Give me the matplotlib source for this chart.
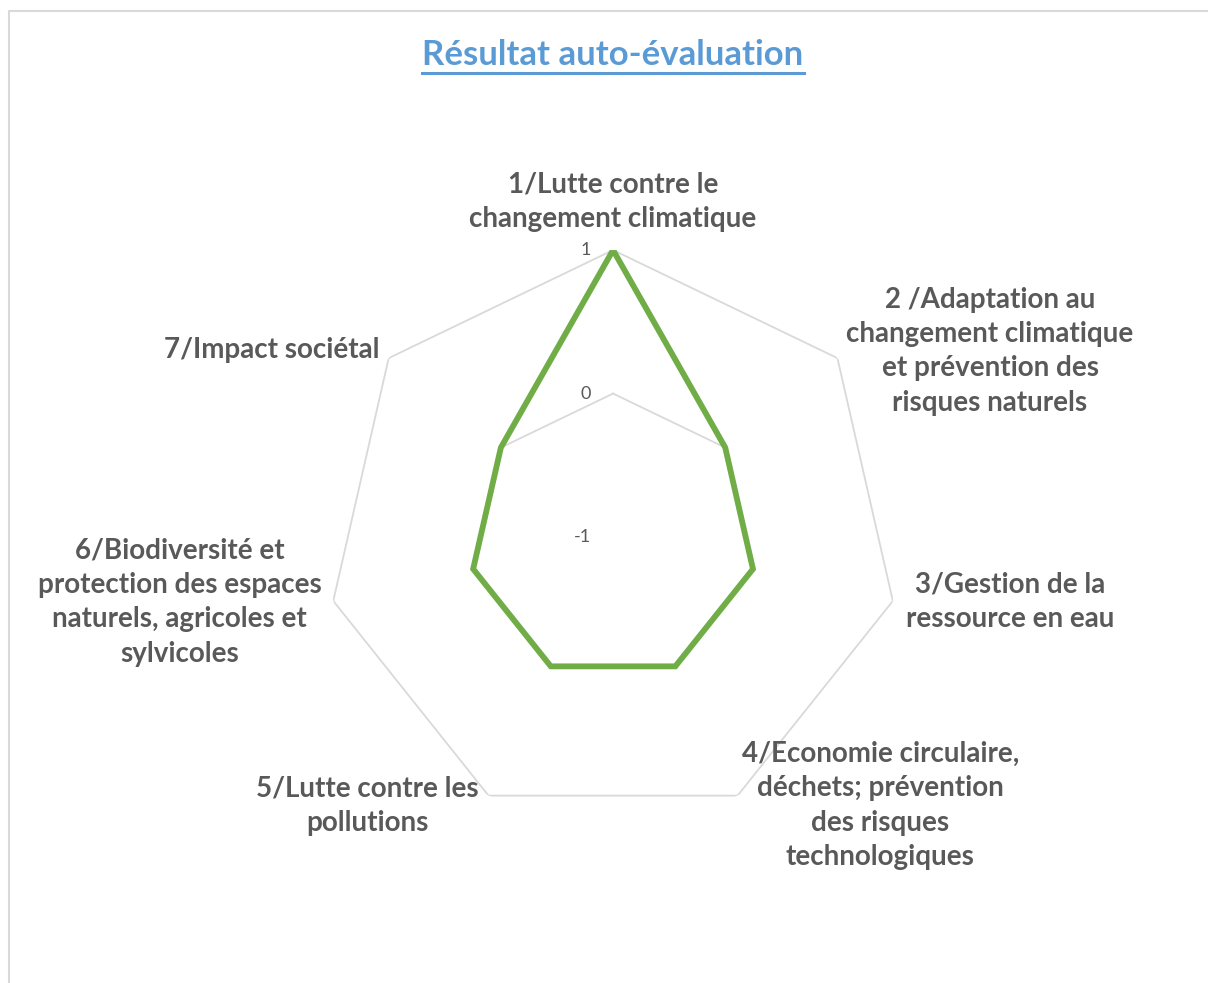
import matplotlib
matplotlib.use("Agg")
import matplotlib.pyplot as plt
import numpy as np
from matplotlib.lines import Line2D

# data
categories = [
    "1/Lutte contre le\nchangement climatique",
    "2 /Adaptation au\nchangement climatique\net prévention des\nrisques naturels",
    "3/Gestion de la\nressource en eau",
    "4/Economie circulaire,\ndéchets; prévention\ndes risques\ntechnologiques",
    "5/Lutte contre les\npollutions",
    "6/Biodiversité et\nprotection des espaces\nnaturels, agricoles et\nsylvicoles",
    "7/Impact sociétal",
]
values = [1, 0, 0, 0, 0, 0, 0]
ticks = [-1, 0, 1]
title = "Résultat auto-évaluation"

# label placement (ha, va, offset in pixels)
label_pos = [
    ("center", "bottom", 0, 18),
    ("left", "center", 9, 7),
    ("left", "center", 13, -1),
    ("left", "center", 4, -10),
    ("right", "center", -10, -10),
    ("right", "center", -12, -1),
    ("right", "center", -9, 8),
]

plt.rcParams["font.family"] = ["Lato", "DejaVu Sans"]
grey = "#595959"

fig = plt.figure(figsize=(12.08, 9.83), dpi=100)
ax = fig.add_axes([0.2699, 0.1617, 0.4752, 0.5839], projection="polar")
ax.set_theta_zero_location("N")
ax.set_theta_direction(-1)

n = len(categories)
theta = np.linspace(0, 2 * np.pi, n, endpoint=False)
theta_c = np.append(theta, theta[0])

# grid heptagons
for t in ticks[1:]:
    ax.plot(theta_c, [t] * (n + 1), color="#D9D9D9", lw=1.3, zorder=1)

vals = np.append(values, values[0])
ax.plot(theta_c, vals, color="#70AD47", lw=4.2, zorder=3, solid_joinstyle="miter")

ax.set_ylim(-1, 1)
ax.grid(False)
ax.spines["polar"].set_visible(False)
ax.set_xticks([])
ax.set_yticks([])
ax.patch.set_alpha(0)

# radial tick labels
for t in ticks:
    ax.annotate(str(t), (0, t), xytext=(-22, 0), textcoords="offset pixels",
                ha="right", va="center", fontsize=13, color=grey)

# category labels
for th, lab, (ha, va, dx, dy) in zip(theta, categories, label_pos):
    ax.annotate(lab, (th, 1), xytext=(dx, dy), textcoords="offset pixels",
                ha=ha, va=va, multialignment="center", fontsize=20,
                fontweight="bold", color=grey, linespacing=1.4)

# title with underline
tt = fig.text(0.5075, 1 - 55 / 983, title, ha="center", va="center",
              fontsize=25, fontweight="bold", color="#5B9BD5")
fig.canvas.draw()
bb = tt.get_window_extent().transformed(fig.transFigure.inverted())
fig.add_artist(Line2D([bb.x0, bb.x1], [bb.y0 - 0.002, bb.y0 - 0.002],
                      transform=fig.transFigure, color="#5B9BD5", lw=2.2))

# chart frame (top and left visible)
fig.add_artist(Line2D([9 / 1208, 9 / 1208, 1.0], [0.0, 1 - 11 / 983, 1 - 11 / 983],
                      transform=fig.transFigure, color="#D9D9D9", lw=1.5))

fig.savefig("out.png", dpi=100, facecolor="white")
